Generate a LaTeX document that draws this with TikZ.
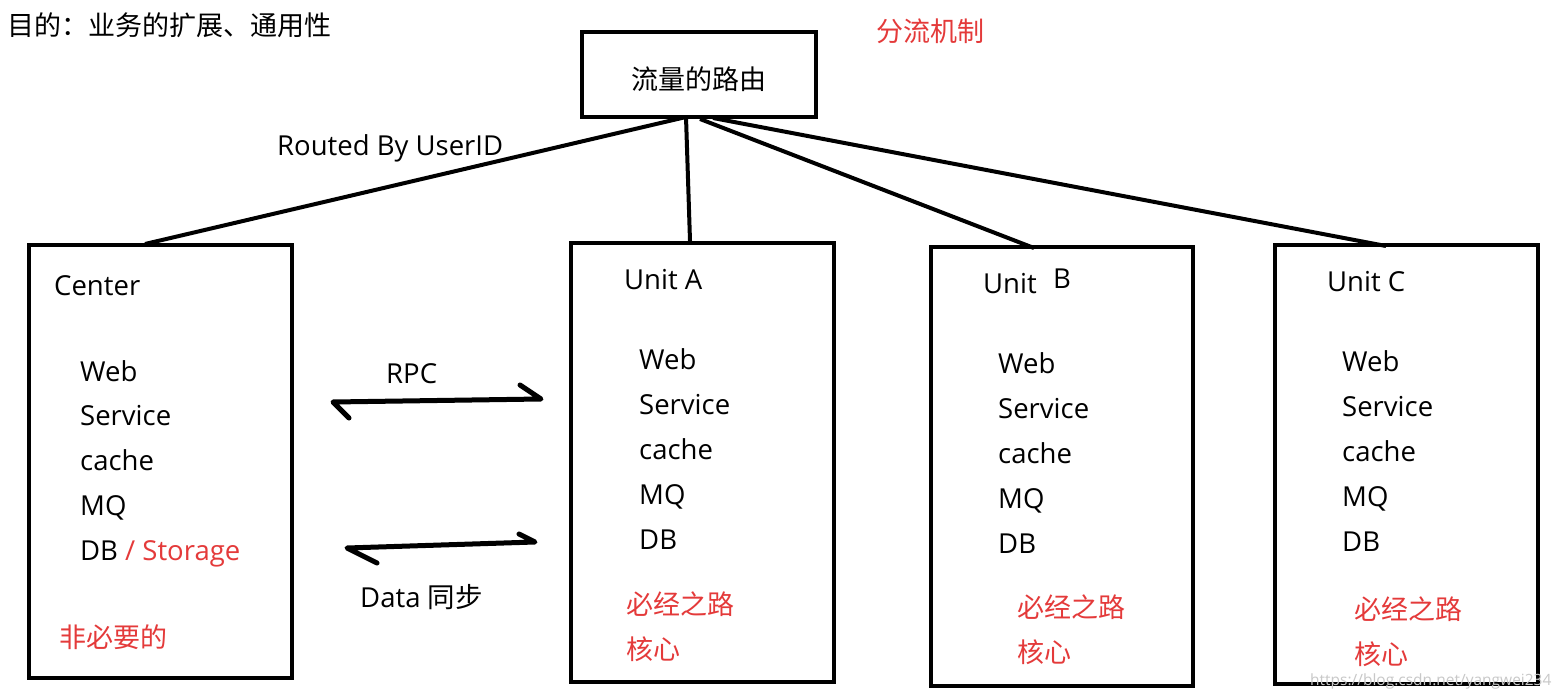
\documentclass[tikz,border=0pt]{standalone}
\usepackage{fontspec}
\setmainfont{Open Sans}
\newfontfamily\cjk{Noto Sans CJK SC}
\definecolor{myred}{RGB}{228,58,58}
\definecolor{wm}{RGB}{200,200,200}
\begin{document}
\begin{tikzpicture}[x=1pt,y=-1pt,
  box/.style={draw,line width=4pt},
  conn/.style={line width=4pt},
  arr/.style={line width=5pt,line cap=round,line join=round},
  lbl/.style={anchor=base west,inner sep=0pt,font=\fontsize{27.5}{30}\selectfont},
  zh/.style={anchor=base west,inner sep=0pt,font=\fontsize{27}{30}\selectfont\cjk},
  rz/.style={zh,text=myred}]
\useasboundingbox[fill=white] (0,0) rectangle (1552,698);
% boxes
\draw[box] (582,32) rectangle (816,117);
\coordinate (top) at (686,117);
\coordinate (topB) at (700,119);
\coordinate (topC) at (713,118);
\draw[box] (29,245) rectangle (292,678);
\draw[box] (571,243) rectangle (834,682);
\draw[box] (931,247) rectangle (1193,686);
\draw[box] (1275,245) rectangle (1538,684);
\coordinate (cT) at (145,244);
\coordinate (aT) at (690,241);
\coordinate (bT) at (1034,248);
\coordinate (cCT) at (1386,246);
\draw[conn] (top) -- (cT);
\draw[conn] (top) -- (aT);
\draw[conn] (topB) -- (bT);
\draw[conn] (topC) -- (cCT);
\node[zh] (ttl) at (699,90) [anchor=base] {流量的路由};
% top texts
\node[zh] (goal) at (7,36) {目的：业务的扩展、通用性};
\node[rz] (fl) at (876,42) {分流机制};
\node[lbl] (routed) at (277,156) {Routed By UserID};
% center
\node[lbl] (ctr) at (54,295) {Center};
\node[lbl] (c1) at (80,381) {Web};
\node[lbl] (c2) at (80,425) {Service};
\node[lbl] (c3) at (80,470) {cache};
\node[lbl] (c4) at (80,515) {MQ};
\node[lbl] (c5) at (80,560) {DB \textcolor{myred}{/ Storage}};
\node[rz] (c6) at (59,647) {非必要的};
% arrows
\coordinate (r1) at (333,402);
\coordinate (r2) at (541,399);
\draw[arr] (349,418) -- (r1) -- (r2) -- (520,385);
\node[lbl] (rpc) at (386,383) {RPC};
\coordinate (d1) at (347,548);
\coordinate (d2) at (535,542);
\draw[arr] (377,563) -- (d1) -- (d2) -- (519,534);
\node[lbl] (data) at (360,607) {Data {\cjk 同步}};
% unit A
\node[lbl] (ua) at (624,289) {Unit A};
\node[lbl] (a1) at (639,369) {Web};
\node[lbl] (a2) at (639,414) {Service};
\node[lbl] (a3) at (639,459) {cache};
\node[lbl] (a4) at (639,504) {MQ};
\node[lbl] (a5) at (639,549) {DB};
\node[rz] (a6) at (626,614) {必经之路};
\node[rz] (a7) at (626,659) {核心};
% unit B
\node[lbl] (ub) at (983,293) {Unit};
\node[lbl] (ub2) at (1053,288) {B};
\node[lbl] (b1) at (998,373) {Web};
\node[lbl] (b2) at (998,418) {Service};
\node[lbl] (b3) at (998,463) {cache};
\node[lbl] (b4) at (998,508) {MQ};
\node[lbl] (b5) at (998,553) {DB};
\node[rz] (b6) at (1017,617) {必经之路};
\node[rz] (b7) at (1017,662) {核心};
% unit C
\node[lbl] (uc) at (1327,291) {Unit C};
\node[lbl] (u1) at (1342,371) {Web};
\node[lbl] (u2) at (1342,416) {Service};
\node[lbl] (u3) at (1342,461) {cache};
\node[lbl] (u4) at (1342,506) {MQ};
\node[lbl] (u5) at (1342,551) {DB};
\node[rz] (u6) at (1354,619) {必经之路};
\node[rz] (u7) at (1354,664) {核心};
% watermark
\node[anchor=base west,inner sep=0pt,text=wm,font=\fontsize{15.5}{18}\selectfont] (wmk) at (1310,685) {https://blog.csdn.net/yangwei234};
\end{tikzpicture}
\end{document}
